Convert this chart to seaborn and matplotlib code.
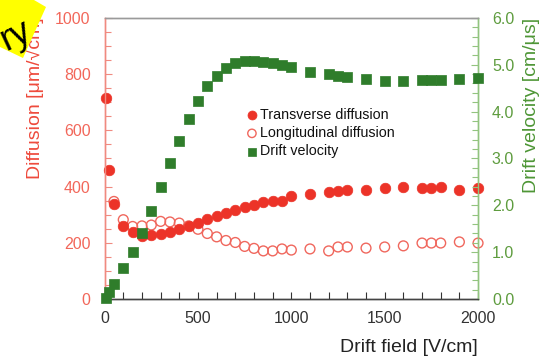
import matplotlib
matplotlib.use("Agg")
import matplotlib.pyplot as plt
from matplotlib.patches import Polygon
from matplotlib.ticker import MultipleLocator, FormatStrFormatter
import seaborn as sns
import pandas as pd

# ---- data ----
trans_field = [5, 25, 50, 100, 150, 200, 250, 300, 350, 400, 450, 500, 550, 600, 650, 700,
               750, 800, 850, 900, 950, 1000, 1100, 1200, 1250, 1300, 1400, 1500, 1600,
               1700, 1750, 1800, 1900, 2000]
trans_diff = [715, 460, 338, 260, 237, 224, 228, 231, 238, 249, 260, 270, 285, 295, 306, 315,
              327, 336, 344, 349, 349, 365, 374, 381, 384, 388, 388, 395, 399,
              395, 395, 399, 388, 395]

long_field = [50, 100, 150, 200, 250, 300, 350, 400, 450, 500, 550, 600, 650, 700, 750, 800,
              850, 900, 950, 1000, 1100, 1200, 1250, 1300, 1400, 1500, 1600, 1700, 1750,
              1800, 1900, 2000]
long_diff = [347, 282, 258, 260, 263, 276, 274, 270, 260, 248, 233, 221, 208, 201, 187, 180,
             171, 171, 178, 174, 178, 171, 185, 185, 181, 185, 189, 199, 199,
             199, 203, 199]

vel_field = [5, 25, 50, 100, 150, 200, 250, 300, 350, 400, 450, 500, 550, 600, 650, 700,
             750, 800, 850, 900, 950, 1000, 1100, 1200, 1250, 1300, 1400, 1500, 1600,
             1700, 1750, 1800, 1900, 2000]
drift_vel = [0.03, 0.15, 0.32, 0.66, 1.01, 1.41, 1.88, 2.38, 2.90, 3.38, 3.84, 4.22, 4.55,
             4.76, 4.93, 5.03, 5.08, 5.08, 5.06, 5.04, 5.00, 4.95, 4.85, 4.80, 4.76, 4.74,
             4.70, 4.66, 4.66, 4.67, 4.67, 4.67, 4.70, 4.72]

series_labels = ["Transverse diffusion", "Longitudinal diffusion", "Drift velocity"]
left_ticks = [0, 200, 400, 600, 800, 1000]
right_ticks = [0, 1, 2, 3, 4, 5, 6]
x_ticks = [0, 500, 1000, 1500, 2000]

# ---- style ----
sns.set_style("ticks")
plt.rcParams["font.family"] = ["Liberation Sans", "DejaVu Sans"]

RED = "#ec3328"
RED_OPEN = "#f0675d"
RED_SPINE = "#f08a80"
RED_TXT = "#f2675a"
RED_LABEL = "#ee4a3c"
GREEN = "#2f7d2b"
GREEN_SPINE = "#92c47f"
GREEN_TXT = "#5e9c3e"
GREEN_LABEL = "#4e9636"

fig = plt.figure(figsize=(5.42, 3.57), dpi=100)
fig.subplots_adjust(left=0.193, right=0.882, bottom=0.1625, top=0.95)
ax = fig.add_subplot(111)
ax2 = ax.twinx()

df_t = pd.DataFrame({"field": trans_field, "val": trans_diff})
df_l = pd.DataFrame({"field": long_field, "val": long_diff})
df_v = pd.DataFrame({"field": vel_field, "val": drift_vel})

sns.scatterplot(data=df_l, x="field", y="val", ax=ax, marker="o", s=50,
                color=RED_OPEN, facecolor="none", edgecolor=RED_OPEN, linewidth=1.0,
                label=series_labels[1], clip_on=False, zorder=3)
sns.scatterplot(data=df_t, x="field", y="val", ax=ax, marker="o", s=58,
                color=RED, edgecolor=RED, linewidth=0.5,
                label=series_labels[0], clip_on=False, zorder=4)
sns.scatterplot(data=df_v, x="field", y="val", ax=ax2, marker="s", s=58,
                color=GREEN, edgecolor=GREEN, linewidth=0.5,
                label=series_labels[2], clip_on=False, zorder=4)

for a in (ax, ax2):
    lg = a.get_legend()
    if lg is not None:
        lg.remove()

ax.set_xlim(0, 2000)
ax.set_ylim(0, 1000)
ax2.set_ylim(0, 6)

ax.set_xticks(x_ticks)
ax.xaxis.set_minor_locator(MultipleLocator(100))
ax.set_yticks(left_ticks)
ax.yaxis.set_minor_locator(MultipleLocator(50))
ax2.set_yticks(right_ticks)
ax2.yaxis.set_major_formatter(FormatStrFormatter("%.1f"))
ax2.yaxis.set_minor_locator(MultipleLocator(0.2))

ax.tick_params(axis="x", which="both", direction="in", colors="#333333", labelsize=11.5,
               pad=9, top=False)
ax.tick_params(axis="x", which="major", length=5, width=0.8)
ax.tick_params(axis="x", which="minor", length=5, width=0.8)
ax.tick_params(axis="y", which="both", direction="in", color=RED_SPINE, labelcolor=RED_TXT,
               labelsize=11.5, pad=10)
ax.tick_params(axis="y", which="major", length=5, width=0.8)
ax.tick_params(axis="y", which="minor", length=4, width=0.8)
ax2.tick_params(axis="y", which="both", direction="in", color=GREEN_SPINE, labelcolor=GREEN_TXT,
                labelsize=11.5, pad=10)
ax2.tick_params(axis="y", which="major", length=5, width=0.8)
ax2.tick_params(axis="y", which="minor", length=4, width=0.8)

for a in (ax, ax2):
    a.spines["top"].set_visible(True)
    a.spines["top"].set_color("#9a9a9a")
    a.spines["bottom"].set_color("#444444")
    a.spines["left"].set_color(RED_SPINE)
    a.spines["right"].set_color(GREEN_SPINE)
    for s in a.spines.values():
        s.set_linewidth(1.0)

ax.set_xlabel("Drift field [V/cm]", loc="right", fontsize=14, color="#222222", labelpad=9)
ax.set_ylabel("Diffusion [μm/√cm]", loc="top", fontsize=14, color=RED_LABEL, labelpad=8)
ax2.set_ylabel("Drift velocity [cm/μs]", loc="top", fontsize=14, color=GREEN_LABEL, labelpad=6)

h1, l1 = ax.get_legend_handles_labels()
h2, l2 = ax2.get_legend_handles_labels()
handles = dict(zip(l1 + l2, h1 + h2))
leg = ax2.legend([handles[k] for k in series_labels], series_labels,
                 loc="upper left", bbox_to_anchor=(0.383, 0.68), frameon=False,
                 fontsize=10.3, handlelength=0.6, handletextpad=0.25, labelspacing=0.3,
                 borderpad=0, borderaxespad=0, markerscale=0.85)
for t in leg.get_texts():
    t.set_color("#111111")

# ---- yellow sticker in the top-left corner ----
W, H = 542.0, 357.0
pts = [(0, 0), (34, 0), (46, 7), (23, 58), (0, 47)]
poly = Polygon([(x / W, 1 - y / H) for x, y in pts], closed=True, transform=fig.transFigure,
               facecolor="#ffff00", edgecolor="none", zorder=10)
fig.patches.append(poly)
txt = fig.text(16 / W, 1 - 36 / H, "ry", fontsize=26, rotation=25, ha="center", va="center",
               color="black", zorder=11)
txt.set_clip_path(poly)

fig.savefig("out.png", dpi=100)
